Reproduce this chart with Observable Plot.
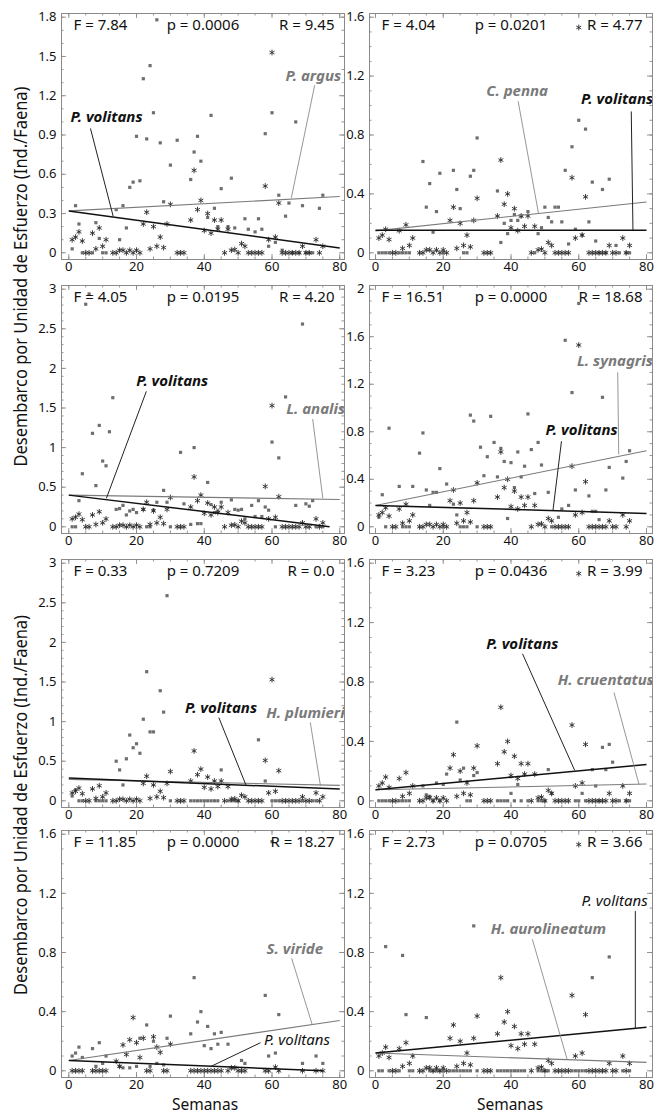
<!DOCTYPE html>
<html><head><meta charset="utf-8">
<script src="https://cdn.jsdelivr.net/npm/d3@7"></script>
<script src="https://cdn.jsdelivr.net/npm/@observablehq/plot@0.6"></script>
<style>
body{margin:0;background:#fff;font-family:"Noto Sans",sans-serif;}
#root{position:relative;width:664px;height:1113px;overflow:hidden;background:#fff;}
#root > svg{position:absolute;}
.xt{position:absolute;bottom:1px;font-size:15.5px;line-height:1;color:#111;transform:translateX(-50%);white-space:nowrap;}
</style></head><body><div id="root"></div>
<script>
// ---------------- DATA ----------------
const speciesNames = ["P. argus","C. penna","L. analis","L. synagris","H. plumierii","H. cruentatus","S. viride","H. aurolineatum"];
const statF = ["7.84","4.04","4.05","16.51","0.33","3.23","11.85","2.73"];
const statP = ["0.0006","0.0201","0.0195","0.0000","0.7209","0.0436","0.0000","0.0705"];
const statR = ["9.45","4.77","4.20","18.68","0.0","3.99","18.27","3.66"];
const yMaxes = [1.8,1.6,3,2,3,1.6,1.6,1.6];
const yTickLabels = [
  [0,0.3,0.6,0.9,1.2,1.5,1.8],[0,0.4,0.8,1.2,1.6],[0,0.5,1,1.5,2,2.5,3],[0,0.4,0.8,1.2,1.6,2],
  [0,0.5,1,1.5,2,2.5,3],[0,0.4,0.8,1.2,1.6],[0,0.4,0.8,1.2,1.6],[0,0.4,0.8,1.2,1.6]];
const xTickLabels = [0,20,40,60,80];

// P. volitans (asterisks), week, ind./faena
const volitans = [[1,0.10],[2,0.12],[3,0.16],[4,0.09],[5,0],[6,0],[7,0.15],[8,0.03],[9,0.19],[10,0.05],[11,0.10],[13,0],[14,0],[15,0.02],[16,0.02],[17,0],[18,0.02],[19,0],[20,0.02],[21,0],[22,0.22],[23,0.31],[24,0.03],[25,0.20],[26,0.05],[27,0.12],[28,0.04],[29,0.22],[30,0.37],[32,0],[33,0],[34,0],[36,0.25],[37,0.63],[38,0.33],[39,0.40],[40,0.17],[41,0.30],[42,0.15],[43,0.25],[44,0.18],[45,0.25],[46,0],[47,0.18],[48,0.02],[49,0.025],[50,0],[51,0.07],[52,0.05],[53,0],[54,0],[55,0],[56,0],[57,0],[58,0.51],[59,0.10],[60,1.53],[61,0.12],[62,0.38],[63,0],[64,0],[65,0],[66,0],[67,0],[68,0],[69,0.05],[70,0],[71,0],[73,0.10],[74,0],[75,0.05]];
// asterisks in the S. viride panel
const volitansViride = [[1,0],[2,0],[3,0],[4,0],[7,0],[8,0],[9,0],[10,0],[11,0],[14,0.065],[15,0.03],[16,0.175],[17,0.11],[18,0.21],[19,0.36],[20,0.19],[21,0.09],[22,0.22],[23,0],[24,0],[25,0.23],[26,0.16],[27,0.125],[28,0],[29,0],[30,0.18],[36,0],[37,0],[38,0],[39,0],[40,0],[41,0],[42,0],[43,0],[44,0],[45,0],[47,0],[48,0.02],[49,0.02],[50,0],[51,0],[52,0],[58,0],[59,0],[61,0.025],[62,0],[69,0],[73,0],[75,0]];

// other species (squares)
const argus = [[1,0.03],[2,0.36],[3,0.22],[4,0],[7,0],[8,0.23],[9,0.11],[10,0],[11,0],[14,0.33],[15,0.10],[16,0.36],[17,0.19],[18,0.50],[19,0.54],[20,0.89],[21,0.55],[22,1.33],[23,0.87],[24,1.43],[25,1.07],[26,1.78],[27,0.84],[28,0.39],[30,0.67],[32,0.86],[36,0.56],[37,0.77],[38,0.89],[39,0.70],[41,0.27],[42,1.05],[43,0.34],[44,0.20],[45,0.49],[47,0.20],[48,0.57],[49,0.19],[52,0.26],[53,0.18],[55,0.16],[56,0.26],[57,0.18],[58,0.91],[59,0.05],[60,1.07],[61,0.08],[62,0.44],[63,0.02],[64,0.28],[65,0.38],[66,0],[67,1.00],[68,0],[69,0.36],[70,0],[71,0],[72,0],[74,0.34],[75,0.44]];
const penna = [[1,0],[2,0],[3,0],[4,0],[7,0],[8,0],[9,0],[10,0],[14,0.62],[15,0.31],[16,0.47],[17,0.14],[18,0.28],[19,0.54],[20,0],[23,0.56],[24,0.43],[25,0.30],[26,0],[27,0],[28,0.52],[29,0.56],[30,0.78],[36,0.42],[37,0.07],[38,0.20],[39,0.13],[40,0.22],[41,0.26],[42,0.22],[43,0.25],[45,0.28],[47,0],[48,0.13],[49,0.17],[50,0.31],[51,0.24],[52,0.21],[53,0.31],[54,0.31],[55,0.21],[56,0.56],[57,0.06],[58,0.72],[59,0.16],[60,0.90],[61,0.12],[62,0.84],[63,0.21],[64,0.48],[65,0.08],[66,0],[67,0.43],[68,0],[69,0.50],[71,0.05],[72,0],[74,0],[75,0]];
const analis = [[1,0],[2,0],[3,0.33],[4,0.67],[5,2.81],[6,2.94],[7,1.18],[8,0.52],[9,1.28],[10,0.83],[11,0.77],[12,1.20],[13,1.63],[14,0.22],[15,0.23],[16,0.27],[17,0.15],[18,0.20],[19,0.22],[20,0.18],[22,0.22],[23,0],[24,0],[25,0.21],[26,0.31],[28,0.46],[29,0.31],[30,0],[33,0.94],[34,0.29],[36,0.03],[37,1.00],[38,0.04],[39,0.04],[41,0.56],[42,0.28],[43,0.18],[44,0.20],[45,0.31],[48,0.34],[49,0.22],[50,0.21],[51,0.22],[52,0.10],[54,0.27],[55,0.13],[56,0.33],[57,0.13],[58,0.25],[59,0.21],[60,1.07],[61,0],[62,0.87],[64,1.64],[67,0.27],[69,2.56],[70,0.29],[71,0.26],[72,0.33],[73,0],[75,0]];
const synagris = [[1,0.08],[2,0.27],[3,0],[4,0.83],[7,0.34],[8,0],[9,0],[10,0],[11,0.34],[13,0.62],[14,0.79],[15,0.31],[16,0.18],[17,0.29],[18,0.29],[19,0.49],[20,0],[21,0.36],[23,0.19],[24,0.10],[25,0],[26,0],[27,0],[28,0.94],[29,0.89],[30,0],[31,0.67],[32,0.43],[33,0.59],[34,0.93],[35,0.71],[36,0.42],[37,0.66],[38,0.55],[39,0.07],[40,0.54],[41,0.33],[42,0.63],[43,0.42],[44,0.51],[45,0.95],[46,0.65],[47,0.28],[48,0.71],[49,0.52],[51,0.29],[52,0],[54,0.08],[55,0.15],[56,1.57],[57,0.18],[58,1.13],[59,0.31],[60,1.88],[63,0.26],[64,0.13],[65,0.13],[66,0.06],[67,1.09],[68,0.31],[69,0.50],[73,0.41],[74,0.55],[75,0.64]];
const plumierii = [[1,0.06],[2,0.14],[3,0],[4,0],[8,0],[9,0],[10,0],[11,0],[14,0.50],[15,0.39],[16,0.20],[17,0.53],[18,0.83],[19,0.67],[20,0.72],[21,0.60],[22,1.03],[23,1.63],[24,0.87],[25,0.87],[27,1.39],[28,1.12],[29,2.59],[30,0],[36,0],[37,0],[38,0],[39,0],[40,0],[41,0],[42,0],[43,0],[44,0],[45,0.39],[47,0],[48,0],[49,0],[50,0],[56,0.77],[58,0.25],[60,0],[61,0],[62,0],[69,0],[72,0],[73,0]];
const cruentatus = [[1,0],[2,0],[3,0],[4,0],[7,0],[8,0],[9,0],[10,0],[14,0.10],[15,0.04],[16,0.03],[17,0],[18,0.12],[19,0],[20,0.11],[21,0.18],[24,0.53],[25,0.14],[26,0.22],[27,0],[28,0],[29,0.17],[30,0.19],[36,0],[37,0],[38,0],[39,0],[40,0.05],[41,0],[42,0.11],[43,0],[45,0],[48,0],[49,0],[50,0],[51,0.21],[52,0.05],[59,0],[60,0],[61,0.05],[62,0],[64,0.21],[65,0.10],[66,0],[67,0.36],[68,0.21],[69,0.38],[70,0.26],[72,0],[74,0],[75,0]];
const viride = [[1,0.10],[2,0.12],[3,0.16],[4,0.09],[7,0.15],[8,0.03],[9,0.19],[10,0.05],[11,0.10],[15,0.03],[16,0.02],[18,0.02],[20,0.03],[21,0.22],[23,0.31],[24,0.03],[25,0.20],[26,0.05],[28,0.04],[29,0.22],[30,0.37],[36,0.25],[37,0.63],[38,0.33],[39,0.40],[40,0.17],[41,0.30],[42,0.15],[43,0.25],[44,0.18],[45,0.26],[47,0.18],[51,0.07],[52,0.05],[58,0.51],[59,0.10],[60,1.55],[61,0.12],[62,0.38],[69,0.05],[73,0.10],[75,0.05]];
const aurolineatum = [[1,0],[2,0],[3,0.84],[4,0],[7,0],[8,0.78],[9,0.38],[10,0],[11,0],[15,0.36],[16,0],[17,0],[18,0],[19,0],[20,0],[22,0],[23,0],[24,0],[25,0],[26,0],[27,0],[28,0],[29,0.98],[30,0],[36,0],[37,0],[38,0],[39,0],[40,0],[41,0],[42,0],[43,0],[44,0],[48,0],[49,0],[50,0],[51,0],[58,0],[59,0],[60,0],[61,0],[62,0],[64,0.63],[69,0.77],[73,0],[75,0]];

const squaresByPanel = [argus, penna, analis, synagris, plumierii, cruentatus, viride, aurolineatum];
const starsByPanel = [volitans, volitans, volitans, volitans, volitans, volitans, volitansViride, volitans];

// fitted lines [week0, value0, week1, value1]
const fitVolitans = [[0,0.32,80,0.036],[0,0.153,80,0.153],[0,0.40,77,0.0],[0,0.18,80,0.113],[0,0.288,80,0.148],[0,0.074,80,0.244],[0,0.07,75,0.0],[0,0.12,80,0.295]];
const fitSpecies  = [[0,0.32,80,0.43],[0,0.149,80,0.345],[0,0.40,80,0.345],[0,0.18,80,0.64],[0,0.27,80,0.195],[0,0.074,80,0.113],[0,0.07,80,0.34],[0,0.12,80,0.057]];

// label placement (data units) and leader lines
const notes = [
  [{t:"P. volitans",vol:true,bold:true,x:0.5,y:1.035,l:[6.4,0.95,13.1,0.28]},{t:"P. argus",x:64,y:1.35,l:[72.6,1.28,65.7,0.42]}],
  [{t:"C. penna",x:32.7,y:1.10,l:[42.1,1.03,48.1,0.27]},{t:"P. volitans",vol:true,bold:true,x:60.7,y:1.04,l:[75.5,0.96,76,0.155]}],
  [{t:"P. volitans",vol:true,bold:true,x:19.9,y:1.84,l:[22.9,1.71,11.1,0.36]},{t:"L. analis",x:64.2,y:1.48,l:[72,1.36,75,0.36]}],
  [{t:"L. synagris",x:59.5,y:1.39,l:[71.5,1.30,71.8,0.61]},{t:"P. volitans",vol:true,bold:true,x:50.2,y:0.81,l:[54.9,0.72,52.4,0.14]}],
  [{t:"P. volitans",vol:true,bold:true,x:34.3,y:1.165,l:[44.3,1.05,52.3,0.20]},{t:"H. plumierii",x:58.3,y:1.10,l:[71.3,0.99,74.3,0.19]}],
  [{t:"P. volitans",vol:true,bold:true,x:32.7,y:1.056,l:[43.4,0.99,58.8,0.205]},{t:"H. cruentatus",x:53.8,y:0.81,l:[70.4,0.73,77.8,0.11]}],
  [{t:"S. viride",x:58.4,y:0.82,l:[65.8,0.76,71.9,0.31]},{t:"P. volitans",vol:true,bold:false,x:57.6,y:0.21,l:[56.6,0.19,42,0.03]}],
  [{t:"P. volitans",vol:true,bold:false,x:60.8,y:1.15,l:[76.7,1.08,76.7,0.29]},{t:"H. aurolineatum",x:34,y:0.96,l:[46.3,0.89,56.6,0.075]}]
];

// ---------------- LAYOUT ----------------
const root = document.getElementById("root");
const cols = [{left:0,width:346,ml:61,mr:2,xd:[-2.15,81.4]},{left:346,width:318,ml:23,mr:12,xd:[-1.77,81.77]}];
const rows = [{top:13,h:246},{top:285,h:248},{top:559,h:248},{top:830,h:247}];
const MT = 13, MB = 18;
const FONT = "'Noto Sans', sans-serif";
const frameGray = "#8a8a8a";

for (let i = 0; i < 8; i++) {
  const c = cols[i % 2], r = rows[Math.floor(i / 2)];
  const fw = c.width - c.ml - c.mr, fh = r.h;
  const padB = 6.7, padT = 3.7;
  const ppu = (fh - padB - padT) / yMaxes[i];
  const yd = [-padB / ppu, yMaxes[i] + padT / ppu];
  const minorX = d3.range(0, 81, 5);
  const minorY = d3.range(0, Math.round(yMaxes[i] * 10) + 1).map(k => k / 10);
  const majorY = yTickLabels[i];
  const tk = () => ({stroke: frameGray, strokeWidth: 0.9});
  const marks = [
    Plot.frame({stroke: frameGray, strokeWidth: 1}),
    // inner ticks: bottom / top
    Plot.tickX(minorX, {x: d => d, insetTop: fh - 2.5, ...tk()}),
    Plot.tickX(xTickLabels, {x: d => d, insetTop: fh - 5, ...tk()}),
    Plot.tickX(minorX, {x: d => d, insetBottom: fh - 2.5, ...tk()}),
    Plot.tickX(xTickLabels, {x: d => d, insetBottom: fh - 5, ...tk()}),
    // left / right
    Plot.tickY(minorY, {y: d => d, insetRight: fw - 2.5, ...tk()}),
    Plot.tickY(majorY, {y: d => d, insetRight: fw - 5, ...tk()}),
    Plot.tickY(minorY, {y: d => d, insetLeft: fw - 2.5, ...tk()}),
    Plot.tickY(majorY, {y: d => d, insetLeft: fw - 5, ...tk()}),
    Plot.axisX(xTickLabels, {tickSize: 0, tickPadding: 2, fontSize: 13, label: null, fill: "#111"}),
    Plot.axisY(majorY, {tickSize: 0, tickPadding: 5, fontSize: 13, label: null, tickFormat: d => String(d), fill: "#111"}),
    // points
    Plot.dot(squaresByPanel[i], {x: d => d[0], y: d => d[1], symbol: "square", r: 1.8, fill: "#6e6e6e"}),
    Plot.dot(starsByPanel[i], {x: d => d[0], y: d => d[1], symbol: "asterisk", r: 2.7, stroke: "#2a2a2a", strokeWidth: 0.9}),
    // fits
    Plot.link([fitSpecies[i]], {x1: d => d[0], y1: d => d[1], x2: d => d[2], y2: d => d[3], stroke: "#7a7a7a", strokeWidth: 1.1}),
    Plot.link([fitVolitans[i]], {x1: d => d[0], y1: d => d[1], x2: d => d[2], y2: d => d[3], stroke: "#111", strokeWidth: 1.5}),
    // statistics
    Plot.text([`F = ${statF[i]}`], {frameAnchor: "top-left", dx: 12, dy: 12, lineAnchor: "middle", textAnchor: "start", fontSize: 15, fill: "#111"}),
    Plot.text([`p = ${statP[i]}`], {frameAnchor: "top", dy: 12, lineAnchor: "middle", fontSize: 15, fill: "#111"}),
    Plot.text([`R = ${statR[i]}`], {frameAnchor: "top-right", dx: -10, dy: 12, lineAnchor: "middle", textAnchor: "end", fontSize: 15, fill: "#111"})
  ];
  for (const n of notes[i]) {
    const col = n.vol ? "#111" : "#7a7a7a";
    marks.push(Plot.link([n.l], {x1: d => d[0], y1: d => d[1], x2: d => d[2], y2: d => d[3], stroke: n.vol ? "#222" : "#8a8a8a", strokeWidth: n.vol ? 1 : 0.9}));
    marks.push(Plot.text([n], {x: d => d.x, y: d => d.y, text: d => d.t, textAnchor: "start", lineAnchor: "middle",
      fontSize: 15, fontStyle: "italic", fontWeight: (n.vol && !n.bold) ? "normal" : "bold", fill: col, clip: true}));
  }
  const svg = Plot.plot({
    width: c.width, height: fh + MT + MB,
    marginLeft: c.ml, marginRight: c.mr, marginTop: MT, marginBottom: MB,
    x: {domain: c.xd}, y: {domain: yd},
    style: {background: "transparent", overflow: "visible", fontFamily: FONT, fontSize: "13px"},
    marks
  });
  svg.style.position = "absolute";
  svg.style.left = c.left + "px";
  svg.style.top = (r.top - MT) + "px";
  root.appendChild(svg);
}

// shared axis titles
const ns = "http://www.w3.org/2000/svg";
const lab = document.createElementNS(ns, "svg");
lab.setAttribute("width", 40); lab.setAttribute("height", 1113);
lab.style.left = "0px"; lab.style.top = "0px";
for (const cy of [276.5, 805]) {
  const t = document.createElementNS(ns, "text");
  t.setAttribute("transform", `translate(27,${cy}) rotate(-90)`);
  t.setAttribute("text-anchor", "middle");
  t.setAttribute("font-size", "18");
  t.setAttribute("font-family", FONT);
  t.setAttribute("fill", "#111");
  t.setAttribute("textLength", "380");
  t.setAttribute("lengthAdjust", "spacingAndGlyphs");
  t.textContent = "Desembarco por Unidad de Esfuerzo (Ind./Faena)";
  lab.appendChild(t);
}
root.appendChild(lab);
for (const cx of [205, 510]) {
  const d = document.createElement("div");
  d.className = "xt";
  d.style.left = cx + "px";
  d.textContent = "Semanas";
  root.appendChild(d);
}
</script></body></html>
